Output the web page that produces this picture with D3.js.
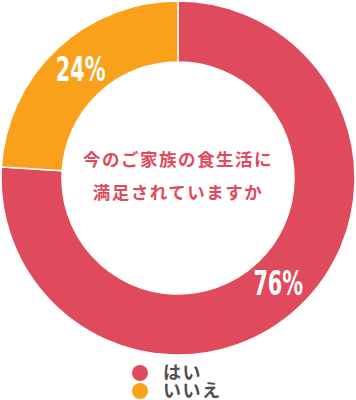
<!DOCTYPE html>
<html><head><meta charset="utf-8">
<script src="https://cdn.jsdelivr.net/npm/d3@7"></script>
<style>html,body{margin:0;padding:0;background:#fff;}svg{display:block;}</style>
</head><body>
<script>
const categories = ["はい", "いいえ"];
const values = [76, 24];
const valueLabels = ["76%", "24%"];
const colors = ["#df4b5d", "#f9a11b"];
const title = ["今のご家族の食生活に", "満足されていますか"];

const W = 356, H = 400, cx = 178, cy = 178, R = 177, r = 116;
const svg = d3.select("body").append("svg").attr("width", W).attr("height", H);
const g = svg.append("g").attr("transform", `translate(${cx},${cy})`);

const pie = d3.pie().sort(null).value(d => d)(values);
const arc = d3.arc().innerRadius(r).outerRadius(R);
g.selectAll("path.slice").data(pie).enter().append("path")
  .attr("d", arc).attr("fill", (d, i) => colors[i])
  .attr("stroke", "#fff").attr("stroke-width", 1.5);

const labelArc = d3.arc().innerRadius((r + R) / 2).outerRadius((r + R) / 2);
g.selectAll("text.val").data(pie).enter().append("text")
  .attr("transform", (d, i) => {
    const c = labelArc.centroid(d);
    return `translate(${c[0] + (i === 1 ? 3 : 0)},${c[1] - 2}) scale(0.68,1)`;
  })
  .attr("text-anchor", "middle").attr("dy", "0.36em")
  .attr("font-family", "'Liberation Sans Narrow', 'DejaVu Sans Condensed', sans-serif")
  .attr("font-weight", "bold").attr("font-size", 34).attr("fill", "#fff")
  .text((d, i) => valueLabels[i]);

g.selectAll("text.title").data(title).enter().append("text")
  .attr("x", 0).attr("y", (d, i) => -12 + i * 33)
  .attr("text-anchor", "middle")
  .attr("font-family", "'Noto Sans CJK JP', sans-serif").attr("font-weight", "bold")
  .attr("font-size", 17.5).attr("letter-spacing", 1.5).attr("fill", colors[0])
  .text(d => d);

const leg = svg.append("g");
categories.forEach((c, i) => {
  const y = 373 + i * 18;
  leg.append("circle").attr("cx", 140).attr("cy", y).attr("r", 8).attr("fill", colors[i]);
  leg.append("text").attr("x", 163).attr("y", y).attr("dy", "0.36em")
    .attr("font-family", "'Noto Sans CJK JP', sans-serif").attr("font-weight", "bold")
    .attr("font-size", 18).attr("letter-spacing", 1.5).attr("fill", "#505050").text(c);
});
</script>
</body></html>
